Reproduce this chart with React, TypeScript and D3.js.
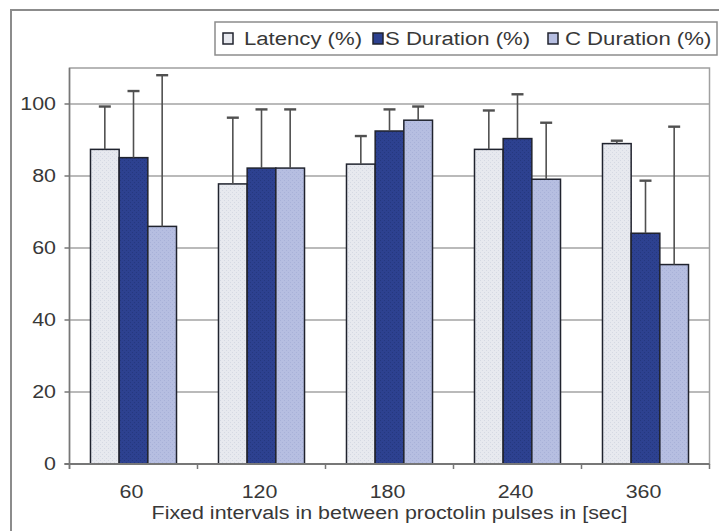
import React from "react";
import * as d3 from "d3";

// Fixed intervals between proctolin pulses (sec)
const categories = ["60", "120", "180", "240", "360"];
const seriesNames = ["Latency (%)", "S Duration (%)", "C Duration (%)"];

// Means (%)
const latency = [87.4, 77.8, 83.3, 87.4, 89.0];
const sDuration = [85.1, 82.2, 92.5, 90.4, 64.1];
const cDuration = [66.0, 82.2, 95.5, 79.1, 55.4];

// Upper error (SD, %)
const latencyErr = [11.9, 18.4, 7.8, 10.8, 0.8];
const sDurationErr = [18.5, 16.3, 6.0, 12.3, 14.6];
const cDurationErr = [42.0, 16.3, 3.8, 15.7, 38.3];

const yTicks = [0, 20, 40, 60, 80, 100];
const xTitle = "Fixed intervals in between proctolin pulses in [sec]";

const W = 719;
const H = 531;
const plot = { left: 69.5, right: 709.5, top: 68, bottom: 464 };

const fills = [
  { base: "#e7e9ef", dot: "#d5d9e3", id: "patLat" },
  { base: "#2d4190", dot: "#25387f", id: "patS" },
  { base: "#b6bee1", dot: "#a8b1d8", id: "patC" },
];

const FONT = "'Liberation Sans', Arial, sans-serif";
const FS = 18;

function Txt(props: {
  x: number;
  y: number;
  sx?: number;
  anchor?: "start" | "middle" | "end";
  children: React.ReactNode;
}) {
  return (
    <text
      transform={`translate(${props.x},${props.y}) scale(${props.sx ?? 1.19},1)`}
      textAnchor={props.anchor ?? "start"}
      fontFamily={FONT}
      fontSize={FS}
      fill="#383838"
    >
      {props.children}
    </text>
  );
}

export default function App() {
  const values = [latency, sDuration, cDuration];
  const errs = [latencyErr, sDurationErr, cDurationErr];

  const y = d3.scaleLinear().domain([0, 110]).range([plot.bottom, plot.top]);
  const x0 = d3
    .scaleBand<string>()
    .domain(categories)
    .range([plot.left, plot.right])
    .paddingInner(0.328)
    .paddingOuter(0.164);
  const x1 = d3
    .scaleBand<string>()
    .domain(seriesNames)
    .range([0, x0.bandwidth()]);

  const step = x0.step();
  const boundaries = d3.range(categories.length + 1).map((i) => plot.left + i * step);

  const legendItems = [
    { sw: 223, tx: 244 },
    { sw: 373, tx: 385 },
    { sw: 548, tx: 565 },
  ];

  return (
    <svg
      width={W}
      height={H}
      style={{ position: "absolute", left: 0, top: 0, background: "#fff" }}
    >
      <defs>
        {fills.map((f) => (
          <pattern key={f.id} id={f.id} width={4} height={4} patternUnits="userSpaceOnUse">
            <rect width={4} height={4} fill={f.base} />
            <rect x={0} y={0} width={1} height={1} fill={f.dot} />
            <rect x={2} y={2} width={1} height={1} fill={f.dot} />
          </pattern>
        ))}
      </defs>

      {/* outer chart frame */}
      <rect x={11} y={10} width={730} height={540} fill="#fff" stroke="#8c8c8c" strokeWidth={2} />

      {/* plot area */}
      <rect
        x={plot.left}
        y={plot.top}
        width={plot.right - plot.left}
        height={plot.bottom - plot.top}
        fill="#fff"
        stroke="#a0a0a0"
        strokeWidth={1.5}
      />

      {/* gridlines + y ticks */}
      {yTicks.map((t) => (
        <g key={t}>
          {t > 0 && (
            <line
              x1={plot.left}
              x2={plot.right}
              y1={y(t)}
              y2={y(t)}
              stroke="#a3a3a3"
              strokeWidth={1.5}
            />
          )}
          <line x1={plot.left - 5} x2={plot.left} y1={y(t)} y2={y(t)} stroke="#777" strokeWidth={1.5} />
          <Txt x={56} y={y(t) + 6} anchor="end">
            {t}
          </Txt>
        </g>
      ))}

      {/* bars */}
      {categories.map((c, ci) => (
        <g key={c}>
          {seriesNames.map((s, si) => {
            const bx = (x0(c) ?? 0) + (x1(s) ?? 0);
            const bw = x1.bandwidth();
            const v = values[si][ci];
            return (
              <rect
                key={s}
                x={bx}
                y={y(v)}
                width={bw}
                height={y(0) - y(v)}
                fill={`url(#${fills[si].id})`}
                stroke="#20232e"
                strokeWidth={1.5}
              />
            );
          })}
        </g>
      ))}

      {/* upper error bars */}
      {categories.map((c, ci) => (
        <g key={`e${c}`}>
          {seriesNames.map((s, si) => {
            const cx = (x0(c) ?? 0) + (x1(s) ?? 0) + x1.bandwidth() / 2;
            const v = values[si][ci];
            const top = v + errs[si][ci];
            return (
              <g key={s} stroke="#505050" strokeWidth={1.6}>
                <line x1={cx} x2={cx} y1={y(v)} y2={y(top)} />
                <line x1={cx - 6} x2={cx + 6} y1={y(top)} y2={y(top)} strokeWidth={2.4} />
              </g>
            );
          })}
        </g>
      ))}

      {/* axes */}
      <line x1={plot.left} x2={plot.left} y1={plot.top} y2={plot.bottom + 5} stroke="#777" strokeWidth={1.5} />
      <line x1={plot.left - 5} x2={plot.right} y1={plot.bottom} y2={plot.bottom} stroke="#777" strokeWidth={1.8} />
      {boundaries.map((bx, i) => (
        <line key={i} x1={bx} x2={bx} y1={plot.bottom} y2={plot.bottom + 5} stroke="#777" strokeWidth={1.5} />
      ))}

      {/* x tick labels */}
      {categories.map((c) => (
        <Txt key={c} x={(x0(c) ?? 0) + x0.bandwidth() / 2 - 2} y={498} anchor="middle">
          {c}
        </Txt>
      ))}

      {/* x title */}
      <Txt x={(plot.left + plot.right) / 2} y={519} anchor="middle">
        {xTitle}
      </Txt>

      {/* legend */}
      <rect x={215} y={22} width={502} height={33} fill="#fff" stroke="#8c8c8c" strokeWidth={1.5} />
      {seriesNames.map((s, i) => (
        <g key={s}>
          <rect
            x={legendItems[i].sw}
            y={33}
            width={10}
            height={11}
            fill={fills[i].base}
            stroke="#20232e"
            strokeWidth={1.5}
          />
          <Txt x={legendItems[i].tx} y={45} sx={1.23}>
            {s}
          </Txt>
        </g>
      ))}
    </svg>
  );
}
